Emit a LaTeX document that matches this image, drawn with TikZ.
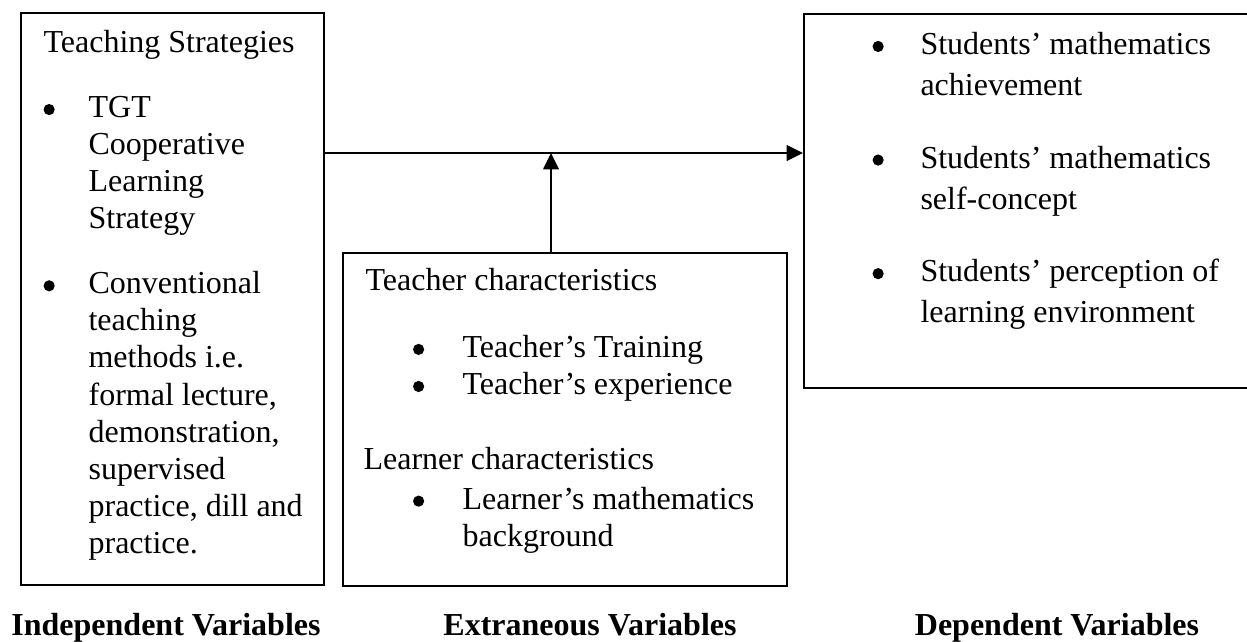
\documentclass[tikz,border=0pt]{standalone}
\usepackage{fontspec}
\setmainfont{Liberation Serif}
\usepackage{array}
\usetikzlibrary{arrows.meta}
\usetikzlibrary{positioning}

\newcommand{\bul}[1][0pt]{\hspace*{#1}\tikz[x=1pt,y=1pt,baseline={(0,-3pt)}]\fill (2.1pt,0) circle (2.1pt);}

\begin{document}
\begin{tikzpicture}[x=0.375pt,y=-0.375pt]
\tikzset{varbox/.style={draw,line width=0.75pt,inner sep=0pt,anchor=north west},
  boxtext/.style={inner sep=0pt,anchor=north west,font=\fontsize{12}{13.9}\selectfont},
  vartitle/.style={inner sep=0pt,anchor=base,font=\fontsize{12}{14}\selectfont\bfseries},
  conn/.style={line width=0.75pt,-{Triangle[length=6.1pt,width=5.8pt]}}}
\useasboundingbox (0,0) rectangle (1247,642);
\clip (0,0) rectangle (1247,642);
% boxes
\node[varbox,minimum width=113.6pt,minimum height=214.5pt](indep) at (20,12){};
\node[varbox,minimum width=166.5pt,minimum height=124.9pt](extr) at (342,252){};
\node[varbox,minimum width=171.4pt,minimum height=140.2pt](dep) at (803,13){};
% box contents
\node[boxtext](indeptext) at (43,26){%
\begin{tabular}{@{}p{16.9pt}@{}l@{}}
\multicolumn{2}{@{}l@{}}{Teaching Strategies}\\[10.5pt]
\bul & TGT\\
 & Cooperative\\
 & Learning\\
 & Strategy\\[10.5pt]
\bul & Conventional\\
 & teaching\\
 & methods i.e.\\
 & formal lecture,\\
 & demonstration,\\
 & supervised\\
 & practice, dill and\\
 & practice.
\end{tabular}};
\node[boxtext](extrtext) at (365,264){%
\begin{tabular}{@{}p{36.4pt}@{}l@{}}
\multicolumn{2}{@{}l@{}}{Teacher characteristics}\\[11.2pt]
\bul[17.8pt] & Teacher's Training\\
\bul[17.8pt] & Teacher's experience\\[14.2pt]
\multicolumn{2}{@{}l@{}}{\hspace*{-0.75pt}Learner characteristics}\\[1pt]
\bul[17.8pt] & Learner's mathematics\\
 & background
\end{tabular}};
\node[boxtext,font=\fontsize{12}{15.5}\selectfont](deptext) at (872,25){%
\begin{tabular}{@{}p{18pt}@{}l@{}}
\bul & Students' mathematics\\
 & achievement\\[11.6pt]
\bul & Students' mathematics\\
 & self-concept\\[11.6pt]
\bul & Students' perception of\\
 & learning environment
\end{tabular}};
% titles
\node[vartitle](indeptitle) at (166,635){Independent Variables};
\node[vartitle](extrtitle) at (590,635){Extraneous Variables};
\node[vartitle](deptitle) at (1057,635){Dependent Variables};
% arrows
\coordinate (meet) at (551,153);
\draw[conn](indep.east |- meet) -- (dep.west |- meet);
\draw[conn](extr.north -| meet) -- (meet);
\end{tikzpicture}
\end{document}
